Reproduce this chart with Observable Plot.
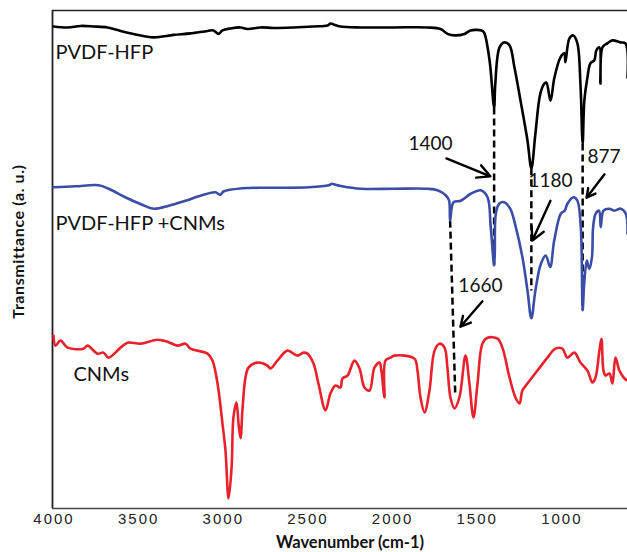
<!DOCTYPE html>
<html>
<head>
<meta charset="utf-8">
<script src="https://cdn.jsdelivr.net/npm/d3@7"></script>
<script src="https://cdn.jsdelivr.net/npm/@observablehq/plot@0.6"></script>
<style>
  html, body { margin: 0; padding: 0; background: #fff; }
  #chart svg { display: block; }
  .tick-lbl text { letter-spacing: 2px; }
  .ylab text { letter-spacing: 0.6px; }
</style>
</head>
<body>
<div id="chart"></div>
<script>
// ---- data (wavenumber cm-1, transmittance in arbitrary units) ----
const xTicks = [4000, 3500, 3000, 2500, 2000, 1500, 1000];
const xDomain = [4009, 612];

const pvdfWn = [4003,3920,3843,3767,3684,3607,3530,3412,3294,3194,3093,3058,3028,3005,2957,2898,2857,2780,2703,2585,2467,2384,2367,2349,2308,2189,1989,1794,1717,1675,1634,1575,1540,1498,1469,1457,1427,1400,1393,1368,1339,1309,1280,1244,1203,1180,1156,1127,1103,1091,1067,1044,1008,985,979,955,932,908,890,877,867,849,831,808,796,778,772,760,731,701,654,624,612];
const pvdfT  = [96.8,96.6,96.9,96.8,96.6,95.9,95.3,94.6,95.1,95.4,95.9,96.0,95.3,96.0,96.4,96.6,96.3,96.6,96.5,96.6,96.8,97.0,97.4,97.2,96.8,96.6,96.6,96.6,96.3,95.3,95.0,95.3,96.0,96.1,95.9,95.4,90.0,80.5,85.3,92.6,93.6,93.0,88.6,81.9,73.9,68.3,75.3,83.3,85.3,85.5,81.9,86.5,90.6,91.4,89.6,94.4,95.0,93.4,85.3,73.3,81.9,86.5,89.4,90.0,92.0,92.6,85.3,92.6,93.4,94.0,93.6,93.4,86.5];

const compWn = [4003,3874,3736,3677,3579,3480,3411,3322,3224,3126,3047,3018,2997,2889,2693,2495,2377,2358,2338,2299,2188,1990,1794,1735,1686,1666,1660,1640,1597,1538,1479,1439,1420,1400,1396,1390,1370,1341,1305,1272,1233,1203,1180,1156,1124,1095,1069,1045,1006,983,967,931,908,888,877,868,852,838,822,815,800,780,770,754,720,691,652,622,612];
const compT  = [64.5,64.7,64.9,64.2,62.5,61.0,60.2,60.8,61.8,62.9,63.5,63.0,63.7,64.3,64.4,64.5,64.9,65.2,65.0,64.7,64.2,64.2,64.2,63.9,62.9,61.8,57.8,61.5,61.8,63.2,63.9,62.5,56.5,48.8,51.5,59.2,61.2,61.5,60.2,56.5,50.5,43.8,38.2,43.8,49.1,50.8,48.5,53.8,59.2,59.8,61.2,62.5,61.8,56.5,39.8,45.1,49.8,48.1,50.5,56.5,59.2,59.8,56.5,59.8,60.2,59.8,60.2,59.2,55.2];

const cnmWn = [4003,3991,3962,3920,3826,3802,3743,3708,3678,3607,3566,3489,3389,3330,3271,3223,3194,3093,3064,3034,3005,2987,2969,2951,2940,2922,2910,2898,2887,2869,2851,2798,2739,2721,2680,2621,2562,2526,2503,2467,2438,2396,2367,2337,2308,2296,2266,2225,2195,2166,2136,2107,2077,2066,2048,2042,2012,1989,1871,1853,1835,1811,1782,1752,1723,1693,1676,1658,1634,1605,1569,1546,1522,1498,1469,1439,1380,1351,1309,1274,1250,1233,1203,1144,1085,1038,997,967,926,890,849,819,801,778,766,754,742,719,701,683,660,630,612];
const cnmT  = [34.7,32.7,33.7,32.3,32.1,32.7,31.1,31.3,30.3,32.3,33.3,33.1,33.9,33.5,32.7,33.1,32.1,31.1,29.7,25.1,17.1,11.6,2.0,8.2,18.3,21.3,17.1,14.1,19.7,26.3,28.3,29.3,28.7,28.1,29.7,31.7,30.7,31.3,31.1,29.1,25.1,19.7,23.1,24.7,24.3,26.1,26.7,29.7,28.1,24.3,23.7,28.3,29.3,27.7,22.3,29.7,30.3,30.7,30.1,27.7,22.3,19.3,23.7,31.7,33.1,32.3,28.3,22.3,20.1,22.3,30.7,25.1,18.3,25.1,33.1,34.3,34.1,32.3,26.3,22.3,21.1,23.7,25.1,27.7,30.3,32.1,32.1,30.3,31.3,29.3,27.7,25.3,26.3,31.7,34.1,27.7,26.7,27.1,25.1,30.3,27.7,26.1,25.7];

const seriesNames  = ["PVDF-HFP", "PVDF-HFP +CNMs", "CNMs"];
const seriesColors = ["#000000", "#3a4ea8", "#e8212b"];
const seriesLabelWn = [3991, 3991, 3885];
const seriesLabelT  = [91.6, 57.2, 26.9];

// axis titles (y title placed at mid-height of the labelled region)
const xTitle = "Wavenumber (cm-1)";
const yTitle = "Transmittance (a. u.)";
const yTitleT = 53.6;

// dashed guide lines between matching bands
const dashWn1 = [1400, 1180, 877, 1660];
const dashT1  = [80.5, 68.3, 73.3, 57.8];
const dashWn2 = [1400, 1180, 877, 1630];
const dashT2  = [48.8, 43.8, 39.8, 23.3];

// annotation arrows and labels
const peakLabels = ["1400", "1180", "877", "1660"];
const labelWn = [1776, 1067, 849, 1481];
const labelT  = [73.3, 65.7, 70.7, 44.6];
const labelAnchor = ["middle", "middle", "start", "middle"];
const arrowWn1 = [1682, 1067, 748, 1469];
const arrowT1  = [70.3, 61.8, 67.1, 41.6];
const arrowWn2 = [1422, 1174, 854, 1599];
const arrowT2  = [66.7, 53.8, 62.4, 36.5];

// ---- build tables ----
const spectra = [
  ...pvdfWn.map((w, i) => ({wn: w, t: pvdfT[i], s: seriesNames[0]})),
  ...compWn.map((w, i) => ({wn: w, t: compT[i], s: seriesNames[1]})),
  ...cnmWn.map((w, i) => ({wn: w, t: cnmT[i], s: seriesNames[2]}))
];
const seriesLbl = seriesNames.map((n, i) => ({n, wn: seriesLabelWn[i], t: seriesLabelT[i]}));
const dashes = dashWn1.map((w, i) => ({x1: w, y1: dashT1[i], x2: dashWn2[i], y2: dashT2[i]}));
const arrows = arrowWn1.map((w, i) => ({x1: w, y1: arrowT1[i], x2: arrowWn2[i], y2: arrowT2[i]}));
const peaks = peakLabels.map((p, i) => ({p, wn: labelWn[i], t: labelT[i], a: labelAnchor[i]}));

const font = "Lato, 'Open Sans', sans-serif";

const chart = Plot.plot({
  width: 627,
  height: 552,
  marginLeft: 52,
  marginTop: 10,
  marginBottom: 44,
  marginRight: 0,
  style: {fontFamily: font, background: "#fff", overflow: "visible"},
  x: {domain: xDomain},
  y: {domain: [0, 100], axis: null},
  color: {domain: seriesNames, range: seriesColors},
  marks: [
    Plot.ruleY([100], {stroke: "#222", strokeWidth: 1.5}),
    Plot.ruleX([xDomain[0]], {stroke: "#222", strokeWidth: 1.8}),
    Plot.axisX({ticks: xTicks, tickSize: 0, tickPadding: 5, label: null,
      tickFormat: d => String(d),
      fontSize: 15, fontFamily: "'Liberation Sans', Arial, sans-serif", fill: "#222",
      className: "tick-lbl"}),
    Plot.text([yTitle], {x: () => xDomain[0], y: () => yTitleT, text: d => d,
      rotate: -90, dx: -34, textAnchor: "middle", lineAnchor: "middle",
      fontSize: 16, fontWeight: "bold", fill: "#111", className: "ylab"}),
    Plot.link(dashes, {x1: "x1", y1: "y1", x2: "x2", y2: "y2", stroke: "#000",
      strokeWidth: 2.5, strokeDasharray: "7,4"}),
    Plot.line(spectra, {x: "wn", y: "t", z: "s", stroke: "s", strokeWidth: 2.6,
      curve: "catmull-rom", strokeLinejoin: "round"}),
    Plot.ruleY([0], {stroke: "#444", strokeWidth: 1.5}),
    Plot.arrow(arrows, {x1: "x1", y1: "y1", x2: "x2", y2: "y2", stroke: "#000",
      strokeWidth: 2.4, headLength: 9, headAngle: 55}),
    Plot.text(peaks.filter(d => d.a === "middle"), {x: "wn", y: "t", text: "p",
      textAnchor: "middle", fontSize: 19, fill: "#111", lineAnchor: "middle"}),
    Plot.text(peaks.filter(d => d.a === "start"), {x: "wn", y: "t", text: "p",
      textAnchor: "start", fontSize: 19, fill: "#111", lineAnchor: "middle"}),
    Plot.text(seriesLbl, {x: "wn", y: "t", text: "n", textAnchor: "start",
      fontSize: 20, fill: "#111", lineAnchor: "middle"}),
    Plot.text([xTitle], {frameAnchor: "bottom", dx: 10, dy: 34,
      fontSize: 16.5, fontWeight: "bold", fill: "#111", lineAnchor: "middle"})
  ]
});
document.getElementById("chart").appendChild(chart);
</script>
</body>
</html>
